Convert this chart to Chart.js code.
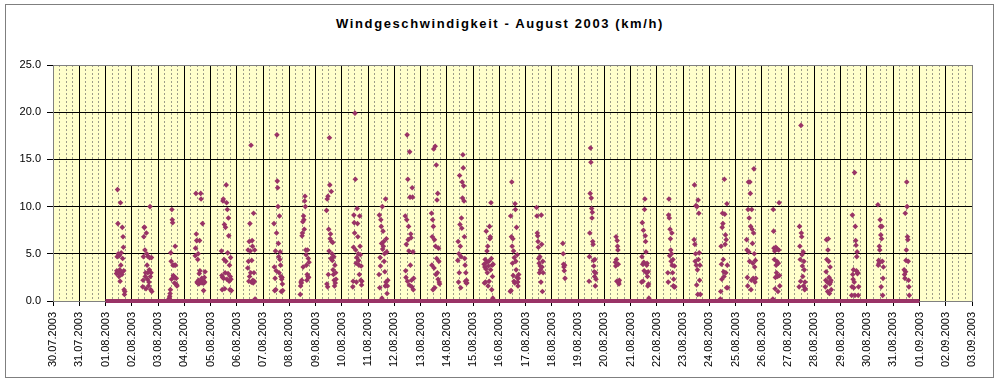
<!DOCTYPE html>
<html><head><meta charset="utf-8">
<script src="https://cdn.jsdelivr.net/npm/chart.js@4.4.0/dist/chart.umd.min.js"></script>
<style>
html,body{margin:0;padding:0;background:#fff;width:1000px;height:382px;overflow:hidden}
#frame{position:absolute;left:5px;top:4px;width:987px;height:372px;border:1px solid #7f7f7f}
#title{position:absolute;left:0;width:1000px;top:16px;line-height:15px;text-align:center;font:bold 13px "Liberation Sans",Arial,sans-serif;letter-spacing:1.6px;color:#000}
canvas{position:absolute;left:0;top:0}
</style></head><body>
<div id="frame"></div>
<div id="title">Windgeschwindigkeit - August 2003 (km/h)</div>
<canvas id="c" width="1000" height="382"></canvas>
<script>
const tickLabels = ['30.07.2003','31.07.2003','01.08.2003','02.08.2003','03.08.2003','04.08.2003','05.08.2003','06.08.2003','07.08.2003','08.08.2003','09.08.2003','10.08.2003','11.08.2003','12.08.2003','13.08.2003','14.08.2003','15.08.2003','16.08.2003','17.08.2003','18.08.2003','19.08.2003','20.08.2003','21.08.2003','22.08.2003','23.08.2003','24.08.2003','25.08.2003','26.08.2003','27.08.2003','28.08.2003','29.08.2003','30.08.2003','31.08.2003','01.09.2003','02.09.2003','03.09.2003'];
const yTicks = [0, 5, 10, 15, 20, 25];
const slotTimes = ['10:00','10:20','10:40','11:00','11:20','11:40','12:00','12:20','12:40','13:00','13:20','13:40','14:00','14:20','14:40','15:00','15:20','15:40','16:00','16:20','16:40','17:00','17:20','17:40','18:00','18:20','18:40','19:00','19:20','19:40','20:00','20:20'];
// calm (0 km/h) readings run continuously over the whole month
const zeroFrom = '01.08.2003', zeroTo = '01.09.2003';

const d0108 = [2.9,3.2,4.7,11.8,8.2,5.0,3.0,2.6,4.8,3.3,2.1,10.4,3.8,5.1,3.0,2.8,7.8,4.5,6.8,5.7,3.2,1.2,0.7,1.0];
const d0208 = [1.5,2.2,4.7,6.8,7.8,7.8,5.4,2.6,3.0,1.3,7.2,5.0,3.8,2.3,3.0,4.7,1.6,2.0,3.3,4.6,10.0,2.6,1.2,3.0,4.6,1.0];
const d0308 = [0.2,0.3,0.5,0.8,1.2,5.1,4.2,2.3,9.7,8.6,8.3,3.8,2.7,2.6,3.8,1.9,2.5,5.8,3.8,1.8,2.4,1.7,1.6];
const d0408 = [4.8,5.6,11.4,7.1,6.4,2.0,1.9,4.4,5.0,2.2,1.8,2.9,6.4,3.2,2.0,11.4,10.8,2.1,2.4,1.9,8.2,2.0,2.2,1.1,1.9,2.5,2.0,3.1];
const d0508 = [5.3,2.7,1.2,2.5,10.6,10.8,2.4,4.4,8.1,1.3,3.0,7.8,4.2,12.3,10.4,2.3,9.7,5.1,2.9,8.8,6.9,2.1,3.8,1.2,2.6,4.6,2.3,1.1];
const d0608 = [3.5,5.4,4.2,2.1,6.3,2.6,8.2,5.3,3.0,16.5,2.0,4.3,6.4,5.8,2.2,1.9,9.3,3.0,2.1,5.4,0.2];
const d0708 = [8.2,3.6,1.1,2.4,5.3,1.2,3.2,7.2,17.6,12.7,12.0,10.0,6.1,4.7,3.0,9.0,4.4,5.2,3.8,2.6,1.0,2.3,2.5,1.8,1.1];
const d0808 = [0.7,1.6,2.0,1.9,2.2,6.9,7.2,8.4,3.6,9.0,8.6,7.6,10.6,11.1,10.0,5.4,4.9,3.8,2.2,2.8,5.4,2.6,4.5,2.5,4.1];
const d0908 = [9.6,1.8,10.8,1.5,11.1,2.8,7.6,5.3,17.3,12.3,6.6,7.1,4.5,11.6,6.3,5.0,4.3,6.2,3.3,2.8,4.7,2.2,1.6,3.8,1.9,3.0,2.3];
const d1008 = [1.5,2.1,5.7,9.1,8.3,7.2,19.9,12.9,5.4,4.0,2.0,4.6,9.8,8.2,6.8,5.0,4.3,3.8,2.8,9.0,5.8,4.9,2.2,3.7,1.7,2.1];
const d1108 = [2.8,9.1,1.4,4.6,3.7,8.6,7.9,6.1,0.3,10.0,5.5,7.4,5.8,6.3,4.2,5.0,3.1,1.6,10.8,2.0,6.6,5.2,0.8,1.6,2.2];
const d1208 = [9.0,3.2,2.5,6.0,8.6,17.6,2.1,12.9,6.5,7.9,5.3,1.7,15.8,11.0,3.8,7.1,6.7,2.2,1.5,12.0,11.0,5.2,1.2,2.4];
const d1308 = [9.3,3.8,6.8,8.6,1.2,7.9,16.1,3.5,6.5,1.4,16.4,5.8,2.8,14.4,4.5,10.7,3.0,11.4,2.3,5.6,4.2,2.0,1.8];
const d1408 = [4.3,6.3,2.0,5.0,3.0,13.3,8.1,5.8,1.4,4.7,8.8,7.7,12.6,10.9,15.5,14.1,12.2,10.6,6.8,4.5,3.8,2.1,3.0,1.9,2.2,1.9];
const d1508 = [3.9,1.9,3.6,4.4,2.0,3.4,7.4,4.1,5.3,3.0,5.8,1.6,3.7,4.2,2.1,7.9,6.6,6.8,3.3,10.4,4.5,1.2,3.8,2.6,0.3,3.9];
const d1608 = [1.0,9.0,1.1,6.8,12.6,5.8,4.0,6.6,2.7,5.3,2.1,4.6,1.9,10.3,9.7,4.2,3.3,7.8,2.5,4.9,2.0,1.6,2.4,2.8];
const d1708 = [9.9,9.0,7.2,6.9,6.3,5.7,4.5,4.0,3.0,4.7,3.7,3.3,2.0,9.1,6.0,3.6,1.0,4.2,3.0];
const d1808 = [6.1,5.0,3.9,3.6,3.2,3.8,2.4];
const d1908 = [2.1,4.7,7.2,11.4,16.2,14.7,10.9,9.8,8.8,9.4,6.3,6.0,4.3,3.7,3.1,2.6,4.4,1.6,3.0,2.3];
const d2008 = [4.1,3.7,6.8,4.4,2.1,6.4,5.8,5.4,3.9,2.0,1.8,2.2];
const d2108 = [2.0,4.7,8.3,3.9,2.1,7.5,4.1,3.2,9.7,10.8,6.9,6.3,5.2,3.0,3.8,4.0,2.6,1.6,3.1,1.8,0.3];
const d2208 = [3.0,2.0,9.1,10.8,8.8,4.8,7.6,6.6,5.4,4.2,5.0,7.2,3.8,3.0,4.4,1.6,2.3,1.5,3.7,1.5];
const d2308 = [6.5,12.3,6.0,4.2,5.0,10.1,3.8,1.7,10.0,3.3,0.7,10.7,4.4,9.3,5.1,2.2,3.8,0.7];
const d2408 = [0.2,1.0,5.8,3.9,2.3,7.8,9.3,8.2,4.4,3.1,2.6,12.9,9.2,6.0,7.0,3.0,6.5,1.4,10.3,3.8,1.4];
const d2508 = [6.5,5.4,2.5,1.6,9.7,12.6,5.2,8.8,4.2,12.6,11.4,7.9,1.2,2.2,9.7,7.6,6.1,4.0,2.4,7.2,14.0,5.0,3.6,2.0,4.3,2.4];
const d2608 = [0.2,9.7,7.4,5.6,4.4,5.3,1.3,2.5,5.7,3.8,3.0,4.2,5.5,2.6,1.0,4.0,5.4,10.4,2.7,1.6];
const d2708 = [1.5,7.9,5.8,4.4,2.1,18.6,7.2,6.8,4.9,3.7,2.6,5.2,1.6,4.2,3.3,1.2,2.0,1.3];
const d2808 = [1.5,2.2,3.1,6.5,4.4,2.0,1.0,5.4,6.6,4.2,2.5,0.8,1.8,3.6,2.0,2.2,1.2];
const d2908 = [0.6,1.5,9.1,2.8,2.3,3.3,1.4,2.0,13.6,0.6,7.9,6.4,5.9,3.2,4.7,5.2,2.9,3.0,0.6,1.5];
const d3008 = [10.2,3.8,4.3,4.0,5.8,5.4,8.6,7.9,7.0,1.5,6.6,7.9,4.2,0.6,2.4,3.6];
const d3108 = [3.3,2.8,2.4,9.3,3.1,4.3,5.4,12.6,10.0,6.8,6.5,4.2,2.2,1.5,0.6];

const dayNames = ['01.08.2003','02.08.2003','03.08.2003','04.08.2003','05.08.2003','06.08.2003','07.08.2003','08.08.2003','09.08.2003','10.08.2003','11.08.2003','12.08.2003','13.08.2003','14.08.2003','15.08.2003','16.08.2003','17.08.2003','18.08.2003','19.08.2003','20.08.2003','21.08.2003','22.08.2003','23.08.2003','24.08.2003','25.08.2003','26.08.2003','27.08.2003','28.08.2003','29.08.2003','30.08.2003','31.08.2003'];
const dayValues = [d0108,d0208,d0308,d0408,d0508,d0608,d0708,d0808,d0908,d1008,d1108,d1208,d1308,d1408,d1508,d1608,d1708,d1808,d1908,d2008,d2108,d2208,d2308,d2408,d2508,d2608,d2708,d2808,d2908,d3008,d3108];

function xOf(date, time) {
  const [h, m] = time.split(':').map(Number);
  return tickLabels.indexOf(date) + (h + m / 60) / 24;
}
const points = [];
dayNames.forEach((d, i) => dayValues[i].forEach((v, j) => points.push({x: xOf(d, slotTimes[j]), y: v})));
const zeroLine = [{x: xOf(zeroFrom, '00:00'), y: 0}, {x: xOf(zeroTo, '00:00'), y: 0}];

const plotBg = {
  id: 'plotBg',
  beforeDraw(chart) {
    const {ctx, chartArea: a} = chart;
    ctx.save();
    ctx.fillStyle = '#ffffcc';
    ctx.fillRect(a.left, a.top, a.right - a.left, a.bottom - a.top);
    ctx.restore();
  }
};

Chart.defaults.font.family = '"Liberation Sans", Arial, sans-serif';
Chart.defaults.font.size = 11;
Chart.defaults.color = '#000';

const xMax = tickLabels.length - 1;
new Chart(document.getElementById('c'), {
  type: 'scatter',
  data: {
    datasets: [
      {type: 'line', data: zeroLine, borderColor: '#993366', borderWidth: 4, pointRadius: 0, clip: false, xAxisID: 'x', yAxisID: 'y'},
      {type: 'scatter', data: points, pointStyle: 'rectRot', pointRadius: 2.8, backgroundColor: '#993366', borderWidth: 0, clip: false, xAxisID: 'x', yAxisID: 'y'}
    ]
  },
  options: {
    responsive: false,
    animation: false,
    layout: {padding: {left: 0, right: 28, top: 65, bottom: 0}},
    plugins: {legend: {display: false}, tooltip: {enabled: false}, title: {display: false}},
    scales: {
      x: {
        type: 'linear', position: 'bottom', min: 0, max: xMax,
        ticks: {stepSize: 1, autoSkip: false, minRotation: 90, maxRotation: 90, padding: 6,
          callback: v => tickLabels[Math.round(v)] ?? ''},
        grid: {color: c => (c.tick && (c.tick.value === 0 || c.tick.value === xMax)) ? '#808080' : '#000', lineWidth: 1, tickLength: 5, tickColor: '#000'},
        border: {color: '#808080'},
        afterFit(s) { s.height = 81; }
      },
      xm: {
        type: 'linear', position: 'bottom', min: 0, max: xMax,
        ticks: {display: false, stepSize: 0.25},
        grid: {color: c => (c.tick && Number.isInteger(c.tick.value)) ? 'rgba(0,0,0,0)' : '#9c9c88', lineWidth: 1, drawTicks: false},
        border: {display: false, dash: [2, 2]},
        afterFit(s) { s.height = 0; }
      },
      y: {
        min: 0, max: 25,
        afterBuildTicks(s) { s.ticks = yTicks.map(v => ({value: v})); },
        ticks: {padding: 6, callback: v => Number(v).toFixed(1)},
        grid: {color: c => (c.tick && (c.tick.value === 25 || c.tick.value === 0)) ? '#808080' : '#000', lineWidth: 1, tickLength: 6, tickColor: '#000'},
        border: {color: '#808080'},
        afterFit(s) { s.width = 53; }
      }
    }
  },
  plugins: [plotBg]
});
</script>
</body></html>
